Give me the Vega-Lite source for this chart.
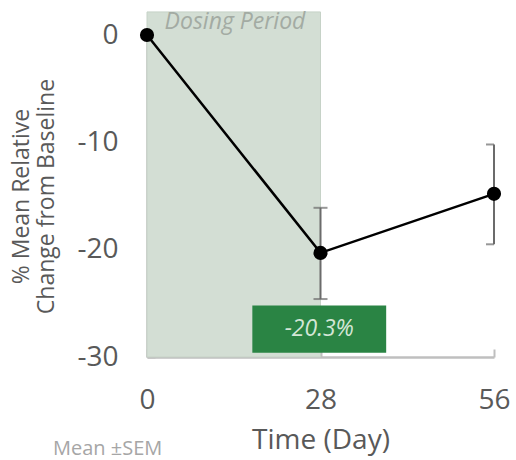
{
  "$schema": "https://vega.github.io/schema/vega-lite/v6.json",
  "width": 347,
  "height": 322,
  "padding": {"left": 147, "top": 35, "right": 22, "bottom": 103},
  "autosize": {"type": "none"},
  "background": "white",
  "config": {
    "view": {"stroke": null},
    "font": "Open Sans"
  },
  "title": {
    "text": "Mean ±SEM",
    "orient": "bottom",
    "anchor": "start",
    "frame": "group",
    "fontSize": 20,
    "fontWeight": "normal",
    "color": "#a6a6a6",
    "font": "Open Sans",
    "baseline": "bottom",
    "dx": -94,
    "dy": 1
  },
  "datasets": {
    "series": [
      {"day": 0, "mean": 0, "lo": 0, "hi": 0},
      {"day": 28, "mean": -20.3, "lo": -24.6, "hi": -16.1},
      {"day": 56, "mean": -14.8, "lo": -19.5, "hi": -10.2}
    ],
    "one": [{}]
  },
  "layer": [
    {
      "data": {"name": "one"},
      "mark": {"type": "rect", "color": "#d3ded4", "stroke": "#c6d2c7", "strokeWidth": 1},
      "encoding": {
        "x": {"datum": 0, "type": "quantitative", "scale": {"domain": [0, 56], "nice": false}},
        "x2": {"datum": 28},
        "y": {"datum": 2.15, "type": "quantitative", "scale": {"domain": [-30, 0], "nice": false, "zero": false}},
        "y2": {"datum": -30}
      }
    },
    {
      "data": {"name": "one"},
      "mark": {"type": "text", "text": "Dosing Period", "fontStyle": "italic", "fontSize": 23, "color": "#a3aba3", "baseline": "middle", "align": "center"},
      "encoding": {
        "x": {"datum": 14.2, "type": "quantitative"},
        "y": {"datum": 1.2, "type": "quantitative"}
      }
    },
    {
      "data": {"name": "one"},
      "mark": {"type": "rect", "color": "#2a8444"},
      "encoding": {
        "x": {"datum": 17, "type": "quantitative"},
        "x2": {"datum": 38.6},
        "y": {"datum": -25.2, "type": "quantitative"},
        "y2": {"datum": -29.6}
      }
    },
    {
      "data": {"name": "one"},
      "mark": {"type": "text", "text": "-20.3%", "fontStyle": "italic", "fontSize": 23, "color": "#d3e6d6", "baseline": "middle", "align": "center"},
      "encoding": {
        "x": {"datum": 27.8, "type": "quantitative"},
        "y": {"datum": -27.4, "type": "quantitative"}
      }
    },
    {
      "data": {"name": "series"},
      "transform": [{"filter": "datum.day > 0"}],
      "mark": {"type": "rule", "color": "#6b6b6b", "strokeWidth": 2},
      "encoding": {
        "x": {"field": "day", "type": "quantitative"},
        "y": {"field": "lo", "type": "quantitative"},
        "y2": {"field": "hi"}
      }
    },
    {
      "data": {"name": "series"},
      "transform": [{"filter": "datum.day == 28"}, {"fold": ["lo", "hi"], "as": ["end", "val"]}],
      "mark": {"type": "tick", "orient": "horizontal", "color": "#6b6b6b", "thickness": 2, "size": 14},
      "encoding": {
        "x": {"field": "day", "type": "quantitative"},
        "y": {"field": "val", "type": "quantitative"}
      }
    },
    {
      "data": {"name": "series"},
      "transform": [{"filter": "datum.day == 56"}, {"fold": ["lo", "hi"], "as": ["end", "val"]}],
      "mark": {"type": "tick", "orient": "horizontal", "color": "#6b6b6b", "thickness": 2, "size": 8, "xOffset": -4},
      "encoding": {
        "x": {"field": "day", "type": "quantitative"},
        "y": {"field": "val", "type": "quantitative"}
      }
    },
    {
      "data": {"name": "series"},
      "mark": {"type": "line", "color": "black", "strokeWidth": 2.5},
      "encoding": {
        "x": {"field": "day", "type": "quantitative"},
        "y": {"field": "mean", "type": "quantitative"}
      }
    },
    {
      "data": {"name": "series"},
      "mark": {"type": "point", "filled": true, "color": "black", "opacity": 1, "size": 200},
      "encoding": {
        "x": {
          "field": "day",
          "type": "quantitative",
          "axis": {
            "values": [0, 28, 56],
            "title": "Time (Day)",
            "grid": false,
            "domainColor": "#bfbfbf",
            "domainWidth": 2.5,
            "tickColor": "#bfbfbf",
            "tickWidth": 2,
            "tickSize": -8,
            "labelFontSize": 28,
            "labelColor": "#595959",
            "labelPadding": 37,
            "labelFlush": false,
            "labelExpr": "datum.value + ''",
            "titleFontSize": 28,
            "titleFontWeight": "normal",
            "titleColor": "#595959",
            "titlePadding": 12
          }
        },
        "y": {
          "field": "mean",
          "type": "quantitative",
          "axis": {
            "values": [0, -10, -20, -30],
            "title": ["% Mean Relative", "Change from Baseline"],
            "grid": false,
            "domainColor": "#bfbfbf",
            "domainWidth": 2.5,
            "tickColor": "#bfbfbf",
            "tickWidth": 2,
            "tickSize": -8,
            "labelFontSize": 28,
            "labelColor": "#595959",
            "labelPadding": 37,
            "labelFlush": false,
            "labelExpr": "datum.value + ''",
            "titleFontSize": 23,
            "titleFontWeight": "normal",
            "titleColor": "#595959",
            "titlePadding": 18,
            "titleLineHeight": 25
          }
        }
      }
    }
  ]
}
